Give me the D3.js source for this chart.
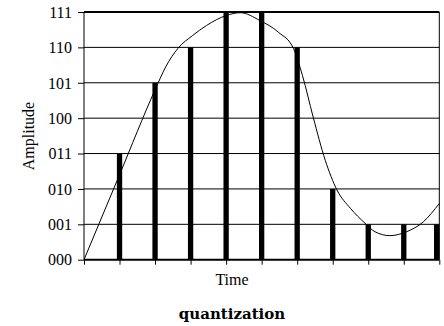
<!DOCTYPE html>
<html><head><meta charset="utf-8">
<script src="https://cdn.jsdelivr.net/npm/d3@7"></script>
<style>body{margin:0;background:#fff}svg{display:block}</style>
</head><body>
<svg id="c" width="444" height="326"></svg>
<script>
// Data
const yTickLabels = ["000","001","010","011","100","101","110","111"];
const sampleTimes = [1,2,3,4,5,6,7,8,9,10];
const sampleLevels = [3,5,6,7,7,6,2,1,1,1];
const signalT = [0,1,2,2.3,2.65,3.05,3.45,4,4.4,4.95,5.47,5.9,6.15,6.45,6.79,7.12,7.5,7.91,8.19,8.61,9.08,9.55,10];
const signalV = [0,2.4,4.8,5.45,5.98,6.33,6.62,6.9,6.98,6.76,6.43,5.96,5.2,4.03,2.81,1.97,1.45,1.03,0.79,0.68,0.79,1.07,1.59];
const xTicks = [0,1,2,3,4,5,6,7,8,9,10];

const svg = d3.select("#c");
const L = 84, R = 439.3, T = 12, B = 259.7;
const x = d3.scaleLinear().domain([0,10]).range([L,R]);
const y = d3.scaleLinear().domain([0,7]).range([B,T]);
const serif = "'Liberation Serif','Times New Roman',serif";

// gridlines
svg.append("g").selectAll("line").data(d3.range(1,7)).join("line")
  .attr("x1",L).attr("x2",R).attr("y1",d=>y(d)).attr("y2",d=>y(d))
  .attr("stroke","#000").attr("stroke-width",1);

// y axis
const yAxis = d3.axisLeft(y).tickValues(d3.range(0,8)).tickFormat(d=>yTickLabels[d]).tickSize(6).tickPadding(6);
const gy = svg.append("g").attr("transform",`translate(${L},0)`).call(yAxis);
gy.attr("font-family",serif).attr("font-size",16);
gy.select(".domain").remove();
gy.selectAll("line").attr("stroke","#000");
gy.selectAll("text").attr("font-family",serif).attr("font-size",16).attr("fill","#000").attr("dy","0.33em");

// x axis ticks
const xAxis = d3.axisBottom(x).tickValues(xTicks).tickFormat("").tickSize(5);
const gx = svg.append("g").attr("transform",`translate(0,${B})`).call(xAxis);
gx.select(".domain").remove();
gx.selectAll("line").attr("stroke","#000");

// border
svg.append("line").attr("x1",L).attr("x2",L).attr("y1",T).attr("y2",B).attr("stroke","#000");
svg.append("line").attr("x1",R).attr("x2",R).attr("y1",T).attr("y2",B).attr("stroke","#000");
svg.append("line").attr("x1",L).attr("x2",R).attr("y1",T).attr("y2",T).attr("stroke","#000").attr("stroke-width",2);
svg.append("line").attr("x1",L).attr("x2",R).attr("y1",B).attr("y2",B).attr("stroke","#000").attr("stroke-width",2);

// bars
const bw = 5.3;
svg.append("g").selectAll("rect").data(sampleTimes.map((t,i)=>({t,v:sampleLevels[i]}))).join("rect")
  .attr("x",d=>Math.min(x(d.t)-bw/2, R-bw))
  .attr("width",bw)
  .attr("y",d=>y(d.v))
  .attr("height",d=>B-y(d.v))
  .attr("fill","#000");

// analog signal
const pts = signalT.map((t,i)=>[t,signalV[i]]);
svg.append("path").datum(pts)
  .attr("d", d3.line().x(d=>x(d[0])).y(d=>y(d[1])).curve(d3.curveMonotoneX))
  .attr("fill","none").attr("stroke","#000").attr("stroke-width",1);

// labels
svg.append("text").attr("transform","translate(34,136) rotate(-90)")
  .attr("text-anchor","middle").attr("font-family",serif).attr("font-size",16).text("Amplitude");
svg.append("text").attr("x",232).attr("y",284.5).attr("text-anchor","middle")
  .attr("font-family",serif).attr("font-size",16).text("Time");
svg.append("text").attr("x",232).attr("y",319.3).attr("text-anchor","middle")
  .attr("font-family","'DejaVu Serif',serif").attr("font-weight","bold").attr("font-size",15).text("quantization");
</script>
</body></html>
